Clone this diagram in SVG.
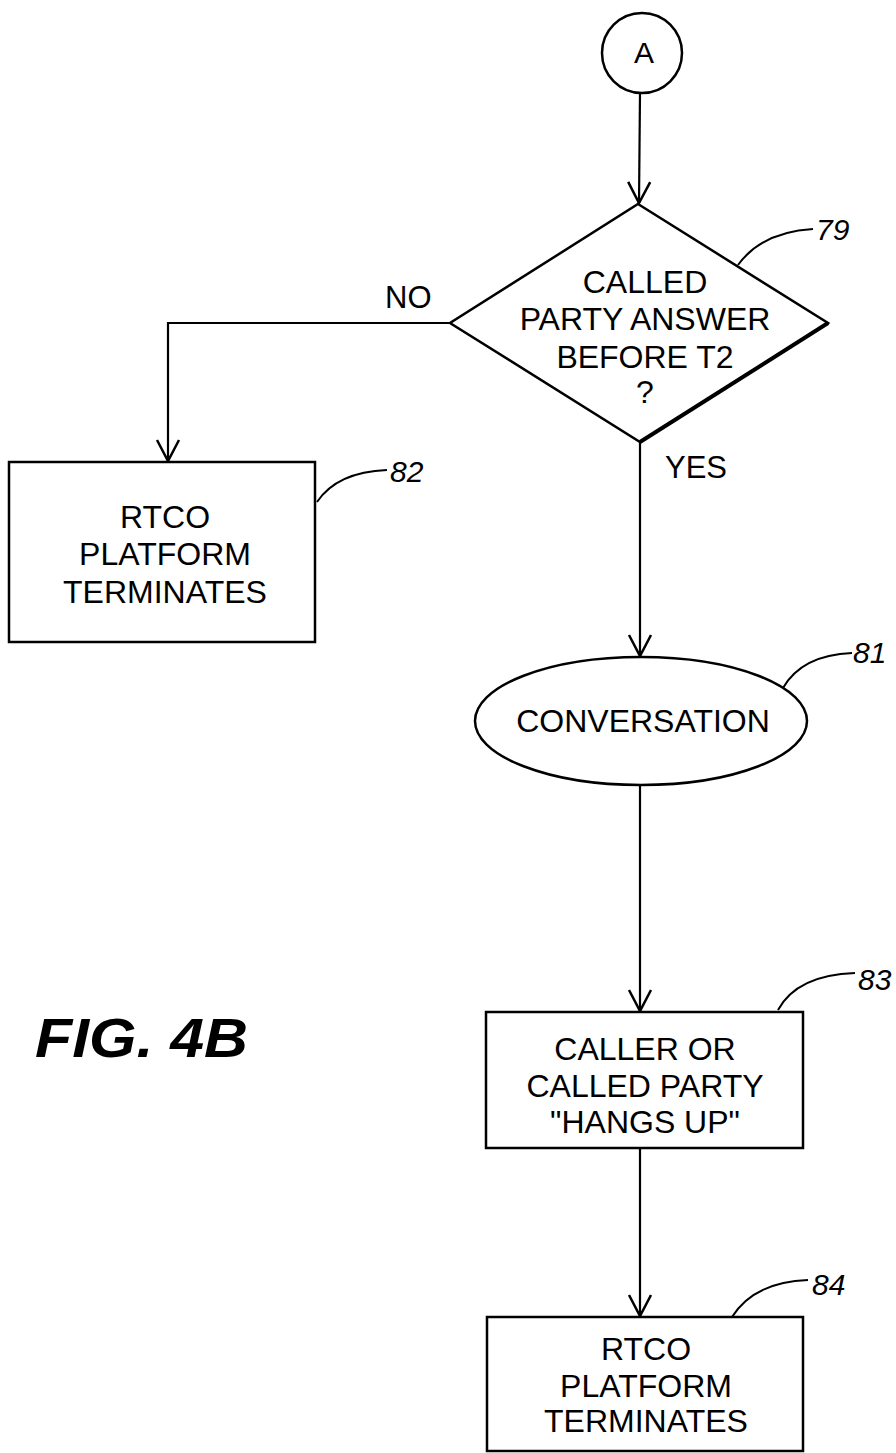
<svg xmlns="http://www.w3.org/2000/svg" width="896" height="1453" viewBox="0 0 896 1453">
<style>
.shape{fill:#fff;stroke:#000;stroke-width:2.5}
.conn{fill:none;stroke:#000;stroke-width:2.2}
.lead{fill:none;stroke:#000;stroke-width:2}
.t{font-family:"Liberation Sans",Arial,sans-serif;font-size:32px;fill:#000;text-anchor:middle}
.lbl{font-family:"Liberation Sans",Arial,sans-serif;font-size:30px;font-style:italic;fill:#000}
.yn{font-family:"Liberation Sans",Arial,sans-serif;font-size:31px;fill:#000}
</style>
<defs>
<marker id="arr" markerUnits="userSpaceOnUse" viewBox="-24 -14 28 28" markerWidth="28" markerHeight="28" refX="0" refY="0" orient="auto">
<path d="M-21,-11 L0,0 L-21,11" fill="none" stroke="#000" stroke-width="2.5"/>
</marker>
</defs>
<rect width="896" height="1453" fill="#fff"/>
<g id="connectors">
<path class="conn" d="M640,93 L639,203" marker-end="url(#arr)"/>
<path class="conn" d="M450,323 L168,323 L168,461" marker-end="url(#arr)"/>
<path class="conn" d="M640,442 L640,656" marker-end="url(#arr)"/>
<path class="conn" d="M640,785 L640,1011" marker-end="url(#arr)"/>
<path class="conn" d="M640,1148 L640,1316" marker-end="url(#arr)"/>
</g>
<g id="nodeA">
<circle class="shape" cx="642" cy="53" r="40"/>
<text class="t" x="644" y="63" style="font-size:30px">A</text>
</g>
<g id="node79">
<polygon class="shape" points="638,204 828,323 640,442 450,323"/>
<line x1="828" y1="323" x2="640" y2="442" stroke="#000" stroke-width="4"/>
<text class="t" x="645" y="293">CALLED</text>
<text class="t" x="645" y="330">PARTY ANSWER</text>
<text class="t" x="645" y="368">BEFORE T2</text>
<text class="t" x="645" y="403">?</text>
<path class="lead" d="M738,265 Q762,232 813,229"/>
<text class="lbl" x="816" y="240">79</text>
</g>
<g id="labels">
<text class="yn" x="385" y="308">NO</text>
<text class="yn" x="665" y="478">YES</text>
</g>
<g id="node82">
<rect class="shape" x="9" y="462" width="306" height="180"/>
<text class="t" x="165" y="528">RTCO</text>
<text class="t" x="165" y="565">PLATFORM</text>
<text class="t" x="165" y="603">TERMINATES</text>
<path class="lead" d="M317,502 Q337,472 387,470"/>
<text class="lbl" x="390" y="482">82</text>
</g>
<g id="node81">
<ellipse class="shape" cx="641" cy="721" rx="166" ry="64"/>
<text class="t" x="643" y="732">CONVERSATION</text>
<path class="lead" d="M783,688 Q802,655 852,653"/>
<text class="lbl" x="853" y="663">81</text>
</g>
<g id="node83">
<rect class="shape" x="486" y="1012" width="317" height="136"/>
<text class="t" x="645" y="1060">CALLER OR</text>
<text class="t" x="645" y="1097">CALLED PARTY</text>
<text class="t" x="645" y="1133">"HANGS UP"</text>
<path class="lead" d="M778,1010 Q797,975 855,973"/>
<text class="lbl" x="858" y="990">83</text>
</g>
<g id="node84">
<rect class="shape" x="487" y="1317" width="316" height="134"/>
<text class="t" x="646" y="1360">RTCO</text>
<text class="t" x="646" y="1397">PLATFORM</text>
<text class="t" x="646" y="1432">TERMINATES</text>
<path class="lead" d="M732,1317 Q754,1282 808,1280"/>
<text class="lbl" x="812" y="1295">84</text>
</g>
<g id="title">
<text x="35" y="1057" font-family="'Liberation Sans',Arial,sans-serif" font-size="56" font-weight="bold" font-style="italic" textLength="213" lengthAdjust="spacingAndGlyphs">FIG. 4B</text>
</g>
</svg>
